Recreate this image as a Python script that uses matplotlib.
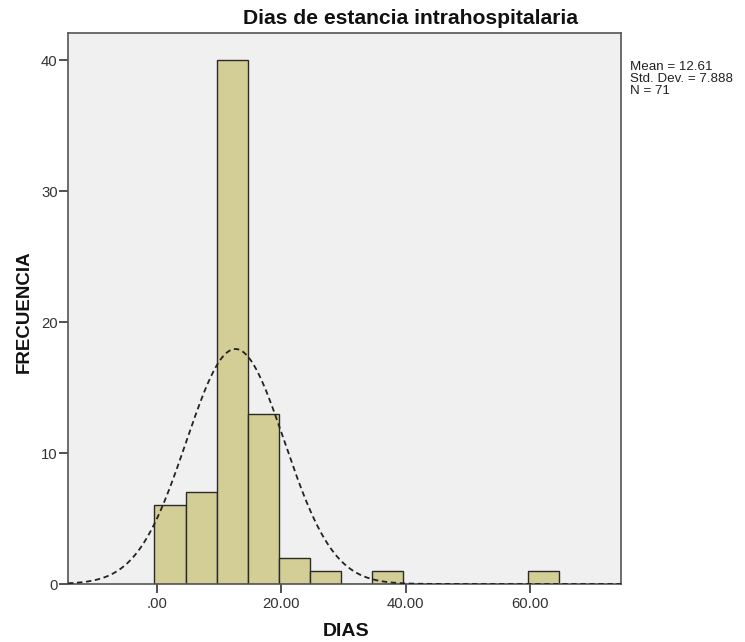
import numpy as np
import matplotlib
matplotlib.use("Agg")
import matplotlib.pyplot as plt

plt.rcParams['font.family'] = ['Liberation Sans', 'DejaVu Sans']

bin_starts = [0, 5, 10, 15, 20, 25, 30, 35, 40, 45, 50, 55, 60]
counts = [6, 7, 40, 13, 2, 1, 0, 1, 0, 0, 0, 0, 1]
bin_width = 5
mean, sd, n = 12.61, 7.888, 71
xticks = [0, 20, 40, 60]
xtick_labels = [".00", "20.00", "40.00", "60.00"]
yticks = [0, 10, 20, 30, 40]

fig = plt.figure(figsize=(7.45, 6.42), dpi=100)
ax = fig.add_axes([68/745, 58/642, 553/745, 551/642])
ax.set_facecolor('#f0f0f0')

offset = -0.4
lefts = np.array(bin_starts) + offset
ax.bar(lefts, counts, width=bin_width, align='edge', color='#d3ce96',
       edgecolor='#2a2a2a', linewidth=1.0, zorder=2)

xlim = (-14.3, 74.6)
xs = np.linspace(xlim[0], xlim[1], 500)
ys = n * bin_width / (sd * np.sqrt(2 * np.pi)) * np.exp(-0.5 * ((xs - mean) / sd) ** 2)
ax.plot(xs, ys, linestyle=(0, (3, 2)), color='#222222', linewidth=1.3, zorder=3)

ax.set_xlim(*xlim)
ax.set_ylim(0, 42.1)
ax.set_xticks(xticks)
ax.set_xticklabels(xtick_labels)
ax.set_yticks(yticks)
ax.tick_params(axis='both', direction='out', length=6.5, width=1.2, color='#333333',
               labelsize=10.7, labelcolor='#333333')
ax.tick_params(axis='x', pad=3)
ax.tick_params(axis='y', pad=1)
for s in ax.spines.values():
    s.set_color('#555555')
    s.set_linewidth(1.2)

fig.text(411/745, 1 - 19/642, "Dias de estancia intrahospitalaria", ha='center', va='center',
         fontsize=15.2, fontweight='bold', color='#111111')
fig.text(24/745, 1 - 312/642, "FRECUENCIA", rotation=90, ha='center', va='center',
         fontsize=13.5, fontweight='bold', color='#111111')
fig.text(346/745, 1 - 632/642, "DIAS", ha='center', va='center',
         fontsize=14, fontweight='bold', color='#111111')
fig.text(630/745, 1 - 61/642, f"Mean = {mean}\nStd. Dev. = {sd}\nN = {n}",
         ha='left', va='top', fontsize=9.6, color='#222222', linespacing=1.0)

fig.savefig("out.png", dpi=100)
